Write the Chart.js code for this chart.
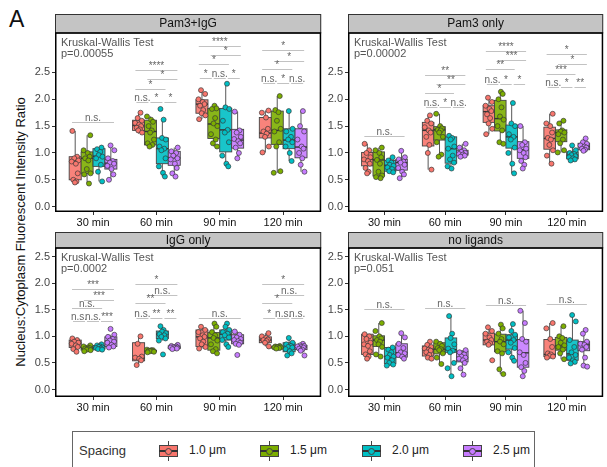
<!DOCTYPE html>
<html>
<head>
<meta charset="utf-8">
<script src="https://cdn.jsdelivr.net/npm/chart.js@4"></script>
<style>
  body { margin: 0; width: 607px; height: 467px; overflow: hidden; position: relative; background: #fff;
         font-family: "Liberation Sans", Arial, sans-serif; }
  canvas { position: absolute; }
  #tag { position: absolute; left: 9px; top: 6px; font-size: 23px; color: #111; }
  #ytitle { position: absolute; left: 20px; top: 232px; transform: translate(-50%, -50%) rotate(-90deg);
            white-space: nowrap; font-size: 13px; color: #111; }
  #legend { position: absolute; left: 72px; top: 431px; width: 463px; height: 44px; border: 1px solid #666;
            box-sizing: border-box; }
  #legend .txt { position: absolute; top: 10px; font-size: 12px; color: #222; line-height: 16px; }
  #legend .title { font-size: 13px; color: #333; top: 11px; }
  .key { position: absolute; top: 9px; width: 19px; height: 20px; }
  .key .wh { position: absolute; left: 9px; top: 0; width: 1px; height: 20px; background: #444; }
  .key .bx { position: absolute; left: 0; top: 4px; width: 19px; height: 12px; border: 1px solid #444; box-sizing: border-box; }
  .key .md { position: absolute; left: 0; top: 9px; width: 19px; height: 1.5px; background: #333; }
  .key .pt { position: absolute; left: 6px; top: 7px; width: 7px; height: 7px; border-radius: 50%; border: 1px solid #444; box-sizing: border-box; }
</style>
</head>
<body>
<div id="tag">A</div>
<div id="ytitle">Nucleus:Cytoplasm Fluorescent Intensity Ratio</div>
<div id="legend"></div>

<script>
// ---- data ----
const TIMES = ["30 min", "60 min", "90 min", "120 min"];
const SPACINGS = ["1.0 μm", "1.5 μm", "2.0 μm", "2.5 μm"];
const COLORS = ["#F8766D", "#7CAE00", "#00BFC4", "#C77CFF"];
const PANEL_TITLES = ["Pam3+IgG", "Pam3 only", "IgG only", "no ligands"];
const KW_PVALUES = ["p=0.00055", "p=0.00002", "p=0.0002", "p=0.051"];
const Y_TICKS = [0, 0.5, 1, 1.5, 2, 2.5];

// box stats per time, per spacing: [lower whisker, q1, median, q3, upper whisker]
const BOX_PAM3_IGG = [
  [[0.45, 0.50, 0.85, 0.93, 1.41], [0.43, 0.62, 0.90, 1.02, 1.33], [0.47, 0.75, 0.94, 1.08, 1.10], [0.50, 0.70, 0.81, 0.88, 1.14]],
  [[1.36, 1.42, 1.51, 1.61, 1.75], [1.12, 1.15, 1.40, 1.61, 1.68], [0.56, 0.80, 1.08, 1.28, 1.62], [0.56, 0.77, 0.91, 1.03, 1.10]],
  [[1.63, 1.74, 1.91, 1.99, 2.17], [1.12, 1.27, 1.54, 1.83, 1.88], [0.75, 1.02, 1.43, 1.83, 2.29], [0.90, 1.09, 1.24, 1.44, 1.77]],
  [[1.01, 1.28, 1.37, 1.66, 1.79], [0.63, 1.16, 1.42, 1.78, 2.06], [0.85, 1.08, 1.24, 1.45, 1.78], [0.65, 0.91, 1.11, 1.45, 1.78]]
];
const BOX_PAM3_ONLY = [
  [[0.62, 0.76, 0.88, 1.01, 1.17], [0.53, 0.57, 0.87, 1.02, 1.10], [0.64, 0.66, 0.77, 0.86, 0.92], [0.53, 0.68, 0.82, 0.88, 1.04]],
  [[0.69, 1.13, 1.42, 1.57, 1.70], [0.93, 1.24, 1.43, 1.49, 1.73], [0.71, 0.81, 1.08, 1.30, 1.32], [0.93, 0.96, 0.99, 1.05, 1.17]],
  [[1.35, 1.57, 1.77, 1.88, 2.03], [1.17, 1.41, 1.64, 1.98, 2.14], [0.62, 1.09, 1.30, 1.52, 1.93], [0.71, 0.90, 1.06, 1.21, 1.50]],
  [[0.80, 1.07, 1.27, 1.48, 1.73], [1.01, 1.21, 1.38, 1.43, 1.60], [0.86, 0.89, 0.96, 1.02, 1.14], [1.04, 1.06, 1.12, 1.18, 1.27]]
];
const BOX_IGG_ONLY = [
  [[0.71, 0.79, 0.87, 0.93, 0.96], [0.72, 0.74, 0.77, 0.81, 0.83], [0.75, 0.76, 0.79, 0.83, 0.85], [0.79, 0.81, 0.91, 0.99, 1.03]],
  [[0.46, 0.54, 0.59, 0.88, 1.00], [0.70, 0.71, 0.73, 0.74, 0.75], [0.92, 0.96, 1.04, 1.10, 1.19], [0.76, 0.77, 0.79, 0.82, 0.84]],
  [[0.77, 0.81, 0.99, 1.12, 1.18], [0.68, 0.74, 0.97, 1.07, 1.24], [0.80, 0.93, 1.04, 1.12, 1.24], [0.84, 0.86, 0.93, 1.03, 1.09]],
  [[0.81, 0.88, 0.93, 0.99, 1.06], [0.77, 0.78, 0.79, 0.81, 0.82], [0.64, 0.71, 0.79, 0.88, 0.97], [0.73, 0.75, 0.80, 0.83, 0.86]]
];
const BOX_NO_LIGANDS = [
  [[0.58, 0.66, 0.85, 1.04, 1.04], [0.62, 0.81, 0.93, 1.01, 1.25], [0.45, 0.49, 0.62, 0.79, 0.79], [0.58, 0.61, 0.69, 0.86, 1.06]],
  [[0.58, 0.63, 0.75, 0.82, 0.90], [0.46, 0.67, 0.76, 0.88, 0.90], [0.25, 0.70, 0.75, 0.97, 1.38], [0.28, 0.52, 0.60, 0.72, 0.74]],
  [[0.84, 0.84, 0.93, 1.06, 1.17], [0.29, 0.71, 0.90, 1.04, 1.22], [0.54, 0.76, 0.93, 1.03, 1.23], [0.25, 0.42, 0.69, 0.94, 1.48]],
  [[0.60, 0.62, 0.66, 0.94, 1.25], [0.57, 0.74, 0.82, 0.98, 1.19], [0.49, 0.55, 0.67, 0.93, 1.40], [0.43, 0.73, 0.84, 0.90, 1.12]]
];

// individual cells per time, per spacing
const PTS_PAM3_IGG = [
  [[1.41, 0.93, 0.90, 0.86, 0.84, 0.80, 0.62, 0.50, 0.47, 0.45], [1.33, 1.05, 1.00, 0.93, 0.90, 0.86, 0.70, 0.62, 0.60, 0.43],
   [1.10, 1.07, 1.02, 0.96, 0.93, 0.90, 0.78, 0.65, 0.47], [1.14, 1.05, 0.90, 0.85, 0.82, 0.80, 0.76, 0.70, 0.60, 0.50]],
  [[1.75, 1.65, 1.60, 1.56, 1.53, 1.50, 1.47, 1.44, 1.42, 1.38], [1.68, 1.62, 1.58, 1.50, 1.42, 1.38, 1.25, 1.18, 1.15, 1.12],
   [1.82, 1.62, 1.28, 1.25, 1.12, 1.08, 1.05, 0.90, 0.75, 0.63, 0.56], [1.10, 1.03, 1.00, 0.95, 0.90, 0.88, 0.80, 0.72, 0.62, 0.56]],
  [[2.17, 2.10, 2.00, 1.95, 1.91, 1.88, 1.80, 1.74, 1.70, 1.63], [1.88, 1.83, 1.82, 1.65, 1.55, 1.50, 1.35, 1.25, 1.18, 1.12],
   [2.29, 1.85, 1.82, 1.60, 1.43, 1.38, 1.20, 0.95, 0.80, 0.75], [1.77, 1.42, 1.38, 1.30, 1.26, 1.22, 1.18, 1.10, 1.00, 0.90]],
  [[1.79, 1.75, 1.66, 1.45, 1.40, 1.36, 1.30, 1.12, 1.01], [2.06, 1.80, 1.76, 1.60, 1.45, 1.40, 1.20, 1.12, 0.66, 0.63],
   [1.78, 1.45, 1.40, 1.30, 1.25, 1.20, 1.12, 1.00, 0.85], [1.78, 1.50, 1.40, 1.25, 1.12, 1.08, 1.00, 0.90, 0.78, 0.65]]
];
const PTS_PAM3_ONLY = [
  [[1.17, 1.05, 1.00, 0.92, 0.88, 0.85, 0.80, 0.72, 0.65, 0.62], [1.10, 1.05, 1.00, 0.92, 0.87, 0.80, 0.65, 0.58, 0.55, 0.53],
   [0.92, 0.86, 0.82, 0.78, 0.76, 0.73, 0.70, 0.66, 0.64], [1.04, 0.92, 0.88, 0.84, 0.82, 0.78, 0.72, 0.65, 0.60, 0.53]],
  [[1.70, 1.60, 1.55, 1.48, 1.42, 1.38, 1.30, 1.15, 1.00, 0.69], [1.73, 1.50, 1.46, 1.43, 1.42, 1.38, 1.30, 1.20, 0.97, 0.93],
   [1.32, 1.28, 1.25, 1.12, 1.08, 0.95, 0.88, 0.82, 0.75, 0.71], [1.17, 1.10, 1.05, 1.02, 1.00, 0.98, 0.97, 0.95, 0.93]],
  [[2.03, 1.95, 1.88, 1.82, 1.78, 1.72, 1.65, 1.55, 1.45, 1.35], [2.14, 2.10, 2.00, 1.85, 1.68, 1.62, 1.50, 1.42, 1.20, 1.17],
   [1.93, 1.55, 1.50, 1.35, 1.30, 1.25, 1.10, 1.00, 0.80, 0.62], [1.50, 1.20, 1.15, 1.08, 1.05, 1.00, 0.92, 0.85, 0.78, 0.71]],
  [[1.73, 1.55, 1.50, 1.38, 1.28, 1.25, 1.15, 1.05, 0.95, 0.80], [1.60, 1.55, 1.42, 1.40, 1.38, 1.35, 1.25, 1.18, 1.05, 1.01],
   [1.14, 1.05, 1.00, 0.98, 0.96, 0.94, 0.92, 0.90, 0.88, 0.86], [1.27, 1.20, 1.17, 1.14, 1.12, 1.10, 1.08, 1.06, 1.04]]
];
const PTS_IGG_ONLY = [
  [[0.96, 0.93, 0.90, 0.88, 0.86, 0.83, 0.80, 0.76, 0.71], [0.83, 0.81, 0.79, 0.78, 0.77, 0.76, 0.75, 0.74, 0.72],
   [0.85, 0.83, 0.81, 0.80, 0.79, 0.78, 0.77, 0.76, 0.75], [1.14, 1.03, 0.99, 0.95, 0.92, 0.90, 0.88, 0.84, 0.81, 0.79]],
  [[1.00, 0.86, 0.62, 0.60, 0.58, 0.55, 0.46], [0.75, 0.74, 0.74, 0.73, 0.73, 0.72, 0.71, 0.70],
   [1.19, 1.12, 1.09, 1.06, 1.04, 1.02, 0.99, 0.96, 0.92, 0.66], [0.84, 0.82, 0.81, 0.80, 0.79, 0.79, 0.78, 0.77, 0.76]],
  [[1.18, 1.12, 1.08, 1.02, 0.99, 0.96, 0.90, 0.85, 0.80, 0.77], [1.24, 1.18, 1.08, 1.02, 0.97, 0.92, 0.85, 0.76, 0.72, 0.68],
   [1.24, 1.18, 1.12, 1.08, 1.05, 1.02, 0.98, 0.93, 0.85, 0.80], [1.09, 1.03, 0.98, 0.95, 0.93, 0.91, 0.88, 0.86, 0.84, 0.65]],
  [[1.06, 1.00, 0.97, 0.94, 0.93, 0.91, 0.88, 0.81], [0.82, 0.81, 0.80, 0.80, 0.79, 0.79, 0.78, 0.77],
   [0.97, 0.88, 0.85, 0.82, 0.80, 0.79, 0.76, 0.72, 0.68, 0.64], [0.86, 0.83, 0.82, 0.81, 0.80, 0.79, 0.77, 0.75, 0.73, 0.64]]
];
const PTS_NO_LIGANDS = [
  [[1.04, 1.00, 0.95, 0.88, 0.85, 0.82, 0.72, 0.66, 0.62, 0.58], [1.25, 1.10, 1.00, 0.96, 0.93, 0.90, 0.85, 0.80, 0.66, 0.62],
   [0.79, 0.75, 0.70, 0.65, 0.62, 0.60, 0.55, 0.50, 0.47, 0.45], [1.06, 0.98, 0.86, 0.78, 0.70, 0.68, 0.65, 0.62, 0.58]],
  [[0.90, 0.84, 0.80, 0.77, 0.75, 0.73, 0.70, 0.65, 0.60, 0.58], [0.90, 0.86, 0.82, 0.78, 0.76, 0.74, 0.68, 0.60, 0.48],
   [1.38, 1.05, 0.97, 0.85, 0.77, 0.73, 0.70, 0.50, 0.40, 0.25], [0.74, 0.70, 0.66, 0.62, 0.60, 0.58, 0.55, 0.50, 0.40, 0.28]],
  [[1.17, 1.10, 1.05, 0.98, 0.93, 0.90, 0.87, 0.84, 0.55], [1.22, 1.15, 1.05, 0.95, 0.90, 0.85, 0.72, 0.68, 0.38, 0.29],
   [1.23, 1.10, 1.03, 0.98, 0.93, 0.88, 0.78, 0.70, 0.60, 0.54], [1.48, 1.25, 0.95, 0.90, 0.70, 0.65, 0.50, 0.42, 0.35, 0.25]],
  [[1.25, 1.15, 0.95, 0.80, 0.68, 0.66, 0.63, 0.62, 0.60], [1.19, 1.00, 0.97, 0.88, 0.83, 0.80, 0.75, 0.68, 0.57],
   [1.40, 1.28, 0.93, 0.80, 0.70, 0.65, 0.60, 0.55, 0.52, 0.49], [1.12, 1.05, 0.90, 0.86, 0.84, 0.80, 0.75, 0.60, 0.45, 0.43]]
];

// significance marks: [time index, spacing a, spacing b, y value, label]
const SIG_PAM3_IGG = [
  [0, 0, 3, 1.57, "n.s."],
  [1, 0, 3, 2.54, "****"], [1, 1, 3, 2.37, "*"], [1, 0, 2, 2.20, "*"],
  [1, 0, 1, 1.95, "n.s."], [1, 1, 2, 1.95, "*"], [1, 2, 3, 1.95, "*"],
  [2, 0, 3, 3.00, "****"], [2, 1, 3, 2.82, "*"], [2, 0, 2, 2.65, "*"],
  [2, 0, 1, 2.39, "*"], [2, 1, 2, 2.39, "n.s."], [2, 2, 3, 2.39, "*"],
  [3, 0, 3, 2.92, "*"], [3, 1, 3, 2.72, "*"], [3, 0, 2, 2.57, "*"],
  [3, 0, 1, 2.31, "n.s."], [3, 1, 2, 2.31, "*"], [3, 2, 3, 2.31, "n.s."]
];
const SIG_PAM3_ONLY = [
  [0, 0, 3, 1.31, "n.s."],
  [1, 0, 3, 2.46, "**"], [1, 1, 3, 2.28, "**"], [1, 0, 2, 2.12, "*"],
  [1, 0, 1, 1.86, "n.s."], [1, 1, 2, 1.86, "*"], [1, 2, 3, 1.86, "n.s."],
  [2, 0, 3, 2.90, "****"], [2, 1, 3, 2.73, "***"], [2, 0, 2, 2.57, "**"],
  [2, 0, 1, 2.29, "n.s."], [2, 1, 2, 2.29, "*"], [2, 2, 3, 2.29, "*"],
  [3, 0, 3, 2.84, "*"], [3, 1, 3, 2.65, "*"], [3, 0, 2, 2.48, "***"],
  [3, 0, 1, 2.23, "n.s."], [3, 1, 2, 2.23, "*"], [3, 2, 3, 2.23, "**"]
];
const SIG_IGG_ONLY = [
  [0, 0, 3, 1.89, "***"], [0, 1, 3, 1.68, "***"], [0, 0, 2, 1.53, "n.s."],
  [0, 0, 1, 1.28, "n.s."], [0, 1, 2, 1.28, "n.s."], [0, 2, 3, 1.28, "***"],
  [1, 0, 3, 1.98, "*"], [1, 1, 3, 1.78, "n.s."], [1, 0, 2, 1.62, "**"],
  [1, 0, 1, 1.35, "n.s."], [1, 1, 2, 1.35, "**"], [1, 2, 3, 1.35, "**"],
  [2, 0, 3, 1.34, "n.s."],
  [3, 0, 3, 1.98, "*"], [3, 1, 3, 1.78, "n.s."], [3, 0, 2, 1.62, "*"],
  [3, 0, 1, 1.35, "*"], [3, 1, 2, 1.35, "n.s."], [3, 2, 3, 1.35, "n.s."]
];
const SIG_NO_LIGANDS = [
  [0, 0, 3, 1.51, "n.s."], [1, 0, 3, 1.54, "n.s."], [2, 0, 3, 1.59, "n.s."], [3, 0, 3, 1.60, "n.s."]
];

// ---- layout (pixels of the page) ----
const FRAMES = [
  { left: 55, right: 323, stripTop: 14, top: 33, bottom: 212, yMin: -0.1, yMax: 3.235 },
  { left: 348, right: 605, stripTop: 14, top: 33, bottom: 212, yMin: -0.1, yMax: 3.235 },
  { left: 55, right: 323, stripTop: 232, top: 248, bottom: 397, yMin: -0.14, yMax: 2.66 },
  { left: 348, right: 605, stripTop: 232, top: 248, bottom: 397, yMin: -0.14, yMax: 2.66 }
];
const OFFSETS = [-0.28125, -0.09375, 0.09375, 0.28125];
const BOX_W = 0.19;
const JITTER = [-0.045, 0.03, -0.015, 0.05, -0.055, 0.01, 0.04, -0.03, 0.02, -0.005, 0.055];
const FONT = '"Liberation Sans", Arial, sans-serif';

function hexA(hex, a) {
  const n = parseInt(hex.slice(1), 16);
  return `rgba(${n >> 16},${(n >> 8) & 255},${n & 255},${a})`;
}

function facetPlugin(title, pval, boxes, sigs) {
  return {
    id: "facet",
    beforeDatasetsDraw(chart) {
      const { ctx, scales: { x, y } } = chart;
      ctx.save();
      boxes.forEach((byTime, ti) => {
        byTime.forEach((st, si) => {
          const c = ti + 1 + OFFSETS[si];
          const xl = x.getPixelForValue(c - BOX_W / 2);
          const xr = x.getPixelForValue(c + BOX_W / 2);
          const xc = x.getPixelForValue(c);
          const [lo, q1, md, q3, hi] = st.map((v) => y.getPixelForValue(v));
          ctx.strokeStyle = "#444";
          ctx.lineWidth = 0.9;
          ctx.beginPath();
          ctx.moveTo(xc, hi); ctx.lineTo(xc, q3);
          ctx.moveTo(xc, q1); ctx.lineTo(xc, lo);
          ctx.stroke();
          ctx.fillStyle = hexA(COLORS[si], 0.9);
          ctx.fillRect(xl, q3, xr - xl, q1 - q3);
          ctx.strokeRect(xl, q3, xr - xl, q1 - q3);
          ctx.lineWidth = 1.4;
          ctx.strokeStyle = "#333";
          ctx.beginPath();
          ctx.moveTo(xl, md); ctx.lineTo(xr, md);
          ctx.stroke();
        });
      });
      ctx.restore();
    },
    afterDatasetsDraw(chart) {
      const { ctx, chartArea: a, scales: { x, y } } = chart;
      ctx.save();
      // significance brackets
      ctx.font = "10px " + FONT;
      ctx.textAlign = "center";
      ctx.textBaseline = "alphabetic";
      sigs.forEach(([ti, sa, sb, v, label]) => {
        let x0, x1;
        if (sb - sa === 1) {
          const L = ti + 1 + OFFSETS[0] - 0.05;
          const R = ti + 1 + OFFSETS[3] + 0.05;
          const step = (R - L) / 3;
          x0 = x.getPixelForValue(L + sa * step) + 1;
          x1 = x.getPixelForValue(L + (sa + 1) * step) - 1;
        } else {
          x0 = x.getPixelForValue(ti + 1 + OFFSETS[sa] - 0.05);
          x1 = x.getPixelForValue(ti + 1 + OFFSETS[sb] + 0.05);
        }
        const py = Math.round(y.getPixelForValue(v)) + 0.5;
        ctx.strokeStyle = "#c2c2c2";
        ctx.lineWidth = 1;
        ctx.beginPath();
        ctx.moveTo(x0, py); ctx.lineTo(x1, py);
        ctx.stroke();
        ctx.fillStyle = "#666";
        ctx.fillText(label, (x0 + x1) / 2, py - 2);
      });
      // Kruskal-Wallis note
      ctx.fillStyle = "#555";
      ctx.font = "11px " + FONT;
      ctx.textAlign = "left";
      ctx.textBaseline = "middle";
      ctx.fillText("Kruskal-Wallis Test", a.left + 6, a.top + 10);
      ctx.fillText(pval, a.left + 6, a.top + 21);
      ctx.restore();
    },
    afterDraw(chart) {
      const { ctx, chartArea: a } = chart;
      ctx.save();
      // strip
      ctx.fillStyle = "#c4c4c4";
      ctx.strokeStyle = "#333";
      ctx.lineWidth = 1;
      ctx.fillRect(a.left, 0.5, a.right - a.left, a.top - 0.5);
      ctx.strokeRect(a.left + 0.5, 0.5, a.right - a.left - 1, a.top - 0.5);
      ctx.fillStyle = "#111";
      ctx.font = "12px " + FONT;
      ctx.textAlign = "center";
      ctx.textBaseline = "middle";
      ctx.fillText(title, (a.left + a.right) / 2, a.top / 2 + 0.5);
      // panel border
      ctx.strokeStyle = "#000";
      ctx.lineWidth = 1.5;
      ctx.strokeRect(a.left + 0.75, a.top, a.right - a.left - 1.5, a.bottom - a.top - 0.75);
      ctx.restore();
    }
  };
}

function makePanel(i, boxes, pts, sigs) {
  const f = FRAMES[i];
  const YW = 32, XH = 22, PR = 3;
  const w = f.right - f.left + YW + PR;
  const h = f.bottom - f.stripTop + XH;
  const canvas = document.createElement("canvas");
  canvas.width = w; canvas.height = h;
  canvas.style.width = w + "px"; canvas.style.height = h + "px";
  canvas.style.left = (f.left - YW) + "px";
  canvas.style.top = f.stripTop + "px";
  document.body.appendChild(canvas);

  const datasets = SPACINGS.map((s, si) => ({
    label: s,
    data: pts.flatMap((byTime, ti) =>
      byTime[si].map((v, k) => ({ x: ti + 1 + OFFSETS[si] + JITTER[(k + si * 3 + ti) % JITTER.length], y: v }))
    ),
    pointRadius: 2.5,
    pointBackgroundColor: COLORS[si],
    pointBorderColor: "rgba(55,55,55,0.85)",
    pointBorderWidth: 0.8
  }));

  new Chart(canvas, {
    type: "scatter",
    data: { datasets },
    options: {
      responsive: false,
      animation: false,
      devicePixelRatio: 1,
      layout: { padding: { top: f.top - f.stripTop, left: 0, right: PR, bottom: 0 } },
      plugins: { legend: { display: false }, tooltip: { enabled: false } },
      scales: {
        x: {
          type: "linear", min: 0.4, max: 4.6,
          afterBuildTicks: (s) => { s.ticks = TIMES.map((t, k) => ({ value: k + 1 })); },
          afterFit: (s) => { s.height = XH; },
          ticks: { callback: (v) => TIMES[v - 1], color: "#111", font: { family: FONT, size: 11 }, padding: 1, maxRotation: 0 },
          grid: { drawOnChartArea: false, drawTicks: true, tickLength: 3, color: "#333" },
          border: { display: false }
        },
        y: {
          min: f.yMin, max: f.yMax,
          afterBuildTicks: (s) => { s.ticks = Y_TICKS.map((v) => ({ value: v })); },
          afterFit: (s) => { s.width = YW; },
          ticks: { callback: (v) => v.toFixed(1), color: "#444", font: { family: FONT, size: 11 }, padding: 2 },
          grid: { drawOnChartArea: false, drawTicks: true, tickLength: 3, color: "#333" },
          border: { display: false }
        }
      }
    },
    plugins: [facetPlugin(PANEL_TITLES[i], KW_PVALUES[i], boxes, sigs)]
  });
}

makePanel(0, BOX_PAM3_IGG, PTS_PAM3_IGG, SIG_PAM3_IGG);
makePanel(1, BOX_PAM3_ONLY, PTS_PAM3_ONLY, SIG_PAM3_ONLY);
makePanel(2, BOX_IGG_ONLY, PTS_IGG_ONLY, SIG_IGG_ONLY);
makePanel(3, BOX_NO_LIGANDS, PTS_NO_LIGANDS, SIG_NO_LIGANDS);

// legend
const legend = document.getElementById("legend");
const KEY_LEFT = [86, 187, 289, 390];
legend.innerHTML = '<span class="txt title" style="left:6px">Spacing</span>' +
  SPACINGS.map((s, i) =>
    `<div class="key" style="left:${KEY_LEFT[i]}px"><div class="wh"></div>` +
    `<div class="bx" style="background:${COLORS[i]}"></div><div class="md"></div>` +
    `<div class="pt" style="background:${COLORS[i]}"></div></div>` +
    `<span class="txt" style="left:${KEY_LEFT[i] + 30}px">${s}</span>`
  ).join("");
</script>
</body>
</html>
